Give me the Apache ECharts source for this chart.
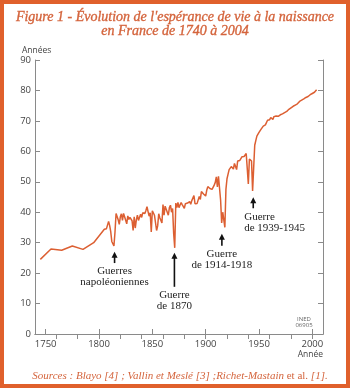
<!DOCTYPE html>
<html>
<head>
<meta charset="utf-8">
<script src="https://cdn.jsdelivr.net/npm/echarts@6/dist/echarts.min.js"></script>
<style>
html,body{margin:0;padding:0;background:#fff;}
#c{width:350px;height:388px;}
</style>
</head>
<body>
<div id="c"></div>
<script>
// ---- data ----
const years = [1745,1755,1765,1775,1785,1795,1805,
1806,1807,1808,1809,1810,1811,1812,1813,1814,1815,
1816,1817,1818,1819,1820,1821,1822,1823,1824,1825,1826,1827,1828,1829,
1830,1831,1832,1833,1834,1835,1836,1837,1838,1839,
1840,1841,1842,1843,1844,1845,1846,1847,1848,1849,
1850,1851,1852,1853,1854,1855,1856,1857,1858,1859,
1860,1861,1862,1863,1864,1865,1866,1867,1868,1869,
1870,1871,1872,1873,1874,1875,1876,1877,1878,1879,
1880,1881,1882,1883,1884,1885,1886,1887,1888,1889,
1890,1891,1892,1893,1894,1895,1896,1897,1898,1899,
1900,1901,1902,1903,1904,1905,1906,1907,1908,1909,
1910,1911,1912,1913,1914,1915,1916,1917,1918,1919,
1920,1921,1922,1923,1924,1925,1926,1927,1928,1929,
1930,1931,1932,1933,1934,1935,1936,1937,1938,1939,
1940,1941,1942,1943,1944,1945,1946,1947,1948,1949,
1950,1951,1952,1953,1954,1955,1956,1957,1958,1959,
1960,1961,1962,1963,1964,1965,1966,1967,1968,1969,
1970,1971,1972,1973,1974,1975,1976,1977,1978,1979,
1980,1981,1982,1983,1984,1985,1986,1987,1988,1989,
1990,1991,1992,1993,1994,1995,1996,1997,1998,1999,
2000,2001,2002,2003,2004];
const lifeExpectancy = [24.5,27.9,27.5,28.9,27.8,30.0,34.4,
33.9,34.6,35.2,37.0,35.6,33.6,30.4,31.0,28.9,33.5,
39.6,39.0,37.5,36.0,38.5,39.5,37.3,39.6,38.5,38.0,36.2,38.8,37.6,38.3,
38.0,37.2,34.0,38.5,34.8,37.5,39.0,37.3,37.4,39.3,
38.3,39.8,39.5,39.6,40.6,41.8,40.2,38.7,39.8,33.5,
40.5,40.2,39.0,39.3,34.0,35.5,39.5,38.2,38.3,36.5,
42.5,39.0,42.0,41.0,41.2,39.0,41.5,42.3,40.0,41.2,
33.0,28.3,43.0,41.5,43.2,41.5,42.4,43.2,42.5,42.6,
41.3,42.8,42.5,43.0,42.4,43.5,42.6,43.8,44.2,45.5,
42.8,43.3,42.9,43.2,45.2,44.2,46.8,47.0,46.0,45.5,
45.3,47.2,48.4,48.2,47.8,48.2,47.5,47.8,48.9,49.8,
51.6,48.3,51.8,51.9,44.0,36.5,40.0,39.5,35.0,47.5,
51.0,52.5,54.0,54.0,55.0,54.5,54.2,56.0,55.8,54.0,
56.8,56.5,57.0,57.2,58.2,58.0,58.3,58.8,59.3,59.3,
49.3,57.5,57.2,56.8,47.0,54.5,62.0,63.5,65.0,64.6,
66.2,66.0,67.3,67.4,68.3,68.7,68.7,69.3,70.2,70.6,
70.4,71.1,70.7,70.5,71.4,71.2,71.6,71.4,71.5,71.1,
72.0,72.0,72.3,72.5,72.7,72.9,73.1,73.7,73.8,74.1,
74.3,74.5,74.8,74.8,75.2,75.3,75.6,76.1,76.4,76.6,
76.8,77.0,77.2,77.3,77.7,77.8,78.0,78.4,78.6,78.7,
79.0,79.2,79.4,79.3,80.2];
const bottomTicks = [1750,1800,1850,1900,1950,2000];
const topTicks = [1760,1780,1800,1820,1840,1860,1880,1900,1920,1940,1960,1980,2000];
// annotations: arrow x (year), tip value, base value, text lines
const annYears = [1814.6, 1870.7, 1915.2, 1944.6];
const annTip = [27.0, 26.7, 32.9, 44.9];
const annBase = [23.3, 15.5, 29.0, 41.3];
const annText = [['Guerres','napoléoniennes'],['Guerre','de 1870'],['Guerre','de 1914-1918'],['Guerre','de 1939-1945']];
const annAlign = ['center','center','center','left'];

const orange = '#dc5f32';
const axisCol = '#8a8a8a';
const labelFont = 'Open Sans';

const chart = echarts.init(document.getElementById('c'), null, {renderer:'canvas'});
const data = years.map((y,i)=>[y, lifeExpectancy[i]]);

chart.setOption({
  animation:false,
  backgroundColor:'#fff',
  grid:{left:35, right:27, top:60, bottom:54},
  xAxis:[{
    type:'value', min:1740, max:2010, position:'bottom',
    axisLine:{show:true, lineStyle:{color:axisCol, width:1}},
    axisTick:{show:true, inside:true, length:5, lineStyle:{color:axisCol}, customValues:bottomTicks},
    axisLabel:{show:true, customValues:bottomTicks, formatter:v=>String(v), color:'#444', fontSize:9.5, fontFamily:labelFont, margin:5},
    splitLine:{show:false}
  },{
    type:'value', min:1740, max:2010, position:'top',
    axisLine:{show:true, lineStyle:{color:axisCol, width:1}},
    axisTick:{show:true, inside:true, length:5, lineStyle:{color:axisCol}, customValues:topTicks},
    axisLabel:{show:false},
    splitLine:{show:false}
  }],
  yAxis:[{
    type:'value', min:0, max:90, interval:10, position:'left',
    axisLine:{show:true, lineStyle:{color:axisCol, width:1}},
    axisTick:{show:true, inside:true, length:5, lineStyle:{color:axisCol}},
    axisLabel:{color:'#444', fontSize:9.5, fontFamily:labelFont, margin:4},
    splitLine:{show:false}
  },{
    type:'value', min:0, max:90, interval:10, position:'right',
    axisLine:{show:true, lineStyle:{color:axisCol, width:1}},
    axisTick:{show:true, inside:true, length:5, lineStyle:{color:axisCol}},
    axisLabel:{show:false},
    splitLine:{show:false}
  }],
  series:[{
    type:'line', data:data, xAxisIndex:0, yAxisIndex:0,
    showSymbol:false, symbol:'none',
    lineStyle:{color:orange, width:1.5},
    z:3
  }]
});

const g = [];
// frame
g.push({type:'rect', shape:{x:2, y:2, width:346, height:384}, style:{fill:'none', stroke:'#e0602c', lineWidth:4}, silent:true, z:10});
// title
g.push({type:'text', x:175, y:10, style:{text:"Figure 1 - Évolution de l'espérance de vie à la naissance\nen France de 1740 à 2004",
  font:'italic 14px "Liberation Serif"', fill:'#d4643c', stroke:'#d4643c', lineWidth:0.35, align:'center', verticalAlign:'top', lineHeight:14.5}, z:10});
// axis names
g.push({type:'text', x:22, y:51, style:{text:'Années', font:'8.5px "Open Sans"', fill:'#444', align:'left', verticalAlign:'middle'}, z:10});
g.push({type:'text', x:323, y:355, style:{text:'Année', font:'8.5px "Open Sans"', fill:'#444', align:'right', verticalAlign:'middle'}, z:10});
// INED
g.push({type:'text', x:304, y:316, style:{text:'INED\n06905', font:'6px "Open Sans"', fill:'#666', align:'center', verticalAlign:'top', lineHeight:6.5}, z:10});
// sources
g.push({type:'text', x:180, y:376, style:{
  text:'{i|Sources : Blayo [4] ; Vallin et Meslé [3] ;Richet-Mastain }{n|et al.}{i| [1].}',
  align:'center', verticalAlign:'middle',
  rich:{i:{font:'italic 11px "Liberation Serif"', fill:'#d4643c'}, n:{font:'11px "Liberation Serif"', fill:'#d4643c'}}
}, z:10});

// annotations
for (let i=0;i<annYears.length;i++){
  const tip = chart.convertToPixel({xAxisIndex:0, yAxisIndex:0}, [annYears[i], annTip[i]]);
  const base = chart.convertToPixel({xAxisIndex:0, yAxisIndex:0}, [annYears[i], annBase[i]]);
  const x = tip[0];
  g.push({type:'line', shape:{x1:x, y1:tip[1]+5, x2:x, y2:base[1]}, style:{stroke:'#111', lineWidth:1.6}, z:10});
  g.push({type:'polygon', shape:{points:[[x, tip[1]],[x-3, tip[1]+6],[x+3, tip[1]+6]]}, style:{fill:'#111'}, z:10});
  const tx = annAlign[i]==='left' ? x-9 : x;
  g.push({type:'text', x:tx, y:base[1]+3, style:{text:annText[i].join('\n'), font:'11px "Liberation Serif"', fill:'#222',
    align:annAlign[i], verticalAlign:'top', lineHeight:11}, z:10});
}
chart.setOption({graphic:g});
</script>
</body>
</html>
